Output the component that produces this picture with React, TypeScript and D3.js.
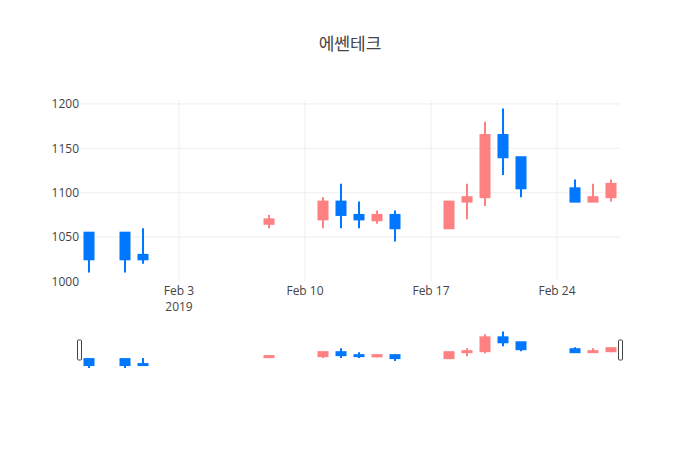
import React from 'react';
import * as d3 from 'd3';

const dates = [
  '2019-01-29', '2019-01-31', '2019-02-01', '2019-02-08', '2019-02-11', '2019-02-12',
  '2019-02-13', '2019-02-14', '2019-02-15', '2019-02-18', '2019-02-19', '2019-02-20',
  '2019-02-21', '2019-02-22', '2019-02-25', '2019-02-26', '2019-02-27'
];
const opens = [1055, 1055, 1030, 1065, 1070, 1090, 1075, 1069, 1075, 1060, 1090, 1095, 1165, 1140, 1105, 1090, 1095];
const highs = [1055, 1055, 1060, 1075, 1095, 1110, 1090, 1080, 1080, 1090, 1110, 1180, 1195, 1140, 1115, 1110, 1115];
const lows = [1010, 1010, 1020, 1060, 1060, 1060, 1060, 1065, 1045, 1060, 1070, 1085, 1120, 1095, 1090, 1090, 1090];
const closes = [1025, 1025, 1025, 1070, 1090, 1075, 1070, 1075, 1060, 1090, 1095, 1165, 1140, 1105, 1090, 1095, 1110];
const yTicks = [1000, 1050, 1100, 1150, 1200];

const title = '에쎈테크';
const upColor = '#FF8080';
const downColor = '#0077FF';
const font = '"Open Sans", "Noto Sans CJK KR", sans-serif';

const W = 700;
const H = 450;
const margin = { left: 80, right: 80, top: 100 };
const mainBottom = 281.5;
const sliderTop = 329.5;
const sliderBottom = 370;

const parse = d3.timeParse('%Y-%m-%d');
const candles = dates.map((d, i) => ({
  date: parse(d) as Date,
  open: opens[i],
  high: highs[i],
  low: lows[i],
  close: closes[i]
}));

const halfDay = 12 * 3600 * 1000;
const x = d3.scaleTime()
  .domain([
    new Date(candles[0].date.getTime() - halfDay),
    new Date(candles[candles.length - 1].date.getTime() + halfDay)
  ])
  .range([margin.left, W - margin.right]);

const yDomain = [1000, 1204.5];
const y = d3.scaleLinear().domain(yDomain).range([mainBottom, margin.top]);
const ySlider = d3.scaleLinear().domain(yDomain).range([sliderBottom, sliderTop]);

const xTicks = d3.timeWeek.range(x.domain()[0], x.domain()[1]);
const fmtDay = d3.timeFormat('%b %-d');

const bodyW = 9;

function Candles({ scale }: { scale: d3.ScaleLinear<number, number> }) {
  return (
    <g>
      {candles.map((c, i) => {
        const col = c.close >= c.open ? upColor : downColor;
        const cx = x(c.date);
        const top = scale(Math.max(c.open, c.close));
        const bot = scale(Math.min(c.open, c.close));
        return (
          <g key={i}>
            <line x1={cx} x2={cx} y1={scale(c.high)} y2={scale(c.low)} stroke={col} strokeWidth={2} />
            <rect
              x={cx - bodyW / 2}
              y={top}
              width={bodyW}
              height={Math.max(bot - top, 0.5)}
              fill={col}
              stroke={col}
              strokeWidth={2}
            />
          </g>
        );
      })}
    </g>
  );
}

export default function App() {
  const plotRight = W - margin.right;
  return (
    <svg
      width={W}
      height={H}
      style={{ position: 'absolute', left: 0, top: 0, background: '#fff', fontFamily: font }}
    >
      <text x={W / 2} y={50} textAnchor="middle" fontSize={17} fill="#444">{title}</text>

      {/* grid */}
      {xTicks.map((t, i) => (
        <line key={'gx' + i} x1={x(t)} x2={x(t)} y1={margin.top} y2={mainBottom} stroke="#eee" strokeWidth={1} />
      ))}
      {yTicks.filter(v => y(v) < mainBottom - 1).map(v => (
        <line key={'gy' + v} x1={margin.left} x2={plotRight} y1={y(v)} y2={y(v)} stroke="#eee" strokeWidth={1} />
      ))}

      <defs>
        <clipPath id="mainClip">
          <rect x={margin.left} y={margin.top} width={plotRight - margin.left} height={mainBottom - margin.top} />
        </clipPath>
      </defs>
      <g clipPath="url(#mainClip)">
        <Candles scale={y} />
      </g>

      {/* y tick labels */}
      {yTicks.map(v => (
        <text key={'ty' + v} x={79} y={y(v) + 4.3} textAnchor="end" fontSize={12} fill="#444">{v}</text>
      ))}

      {/* x tick labels */}
      {xTicks.map((t, i) => (
        <g key={'tx' + i}>
          <text x={x(t)} y={295} textAnchor="middle" fontSize={12} fill="#444">{fmtDay(t)}</text>
          {i === 0 && (
            <text x={x(t)} y={311} textAnchor="middle" fontSize={12} fill="#444">{t.getFullYear()}</text>
          )}
        </g>
      ))}

      {/* range slider */}
      <rect x={margin.left} y={sliderTop} width={plotRight - margin.left} height={sliderBottom - sliderTop} fill="#fff" />
      <Candles scale={ySlider} />
      <rect x={77.5} y={340} width={4} height={20} rx={1} fill="#fff" stroke="#444" strokeWidth={1} />
      <rect x={618.5} y={340} width={4} height={20} rx={1} fill="#fff" stroke="#444" strokeWidth={1} />
    </svg>
  );
}
